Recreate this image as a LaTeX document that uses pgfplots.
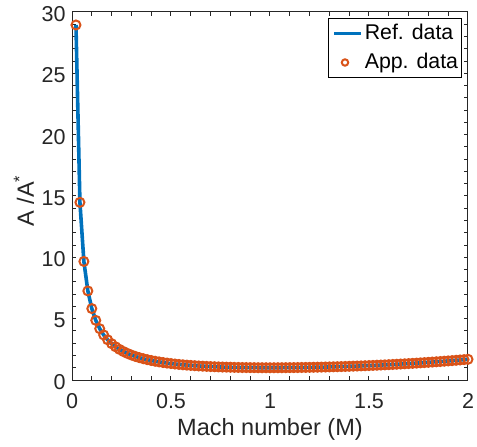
\documentclass[border=0pt]{standalone}
\usepackage{fontspec}
\setmainfont{Liberation Sans}
\usepackage{pgfplots}
\usepackage{pgfplotstable}
\pgfplotsset{compat=1.18}

\definecolor{mblue}{rgb}{0,0.447,0.741}
\definecolor{morange}{rgb}{0.85,0.325,0.098}
\definecolor{axgray}{rgb}{0.15,0.15,0.15}

% legend symbols
\pgfplotsset{
  linelegend/.style={legend image code/.code={
    \draw[mblue, line width=1.8bp, mark=none] (0bp,0bp) -- (13.5bp,0bp);}},
  circlelegend/.style={legend image code/.code={
    \path[draw=none, mark=none] (0bp,0bp) -- (13.5bp,0bp);
    \draw[morange, line width=1bp, mark=none, fill=none]
      (5.5bp,0bp) circle[radius=1.6bp];}},
}

% Mach number vs area ratio
\pgfplotstableread{
M A
0.02 28.942
0.04 14.482
0.06 9.666
0.08 7.262
0.10 5.822
0.12 4.864
0.14 4.182
0.16 3.673
0.18 3.278
0.20 2.964
0.22 2.708
0.24 2.496
0.26 2.317
0.28 2.166
0.30 2.035
0.32 1.922
0.34 1.823
0.36 1.736
0.38 1.659
0.40 1.590
0.42 1.529
0.44 1.474
0.46 1.425
0.48 1.380
0.50 1.340
0.52 1.303
0.54 1.270
0.56 1.240
0.58 1.213
0.60 1.188
0.62 1.166
0.64 1.145
0.66 1.127
0.68 1.110
0.70 1.094
0.72 1.081
0.74 1.068
0.76 1.057
0.78 1.047
0.80 1.038
0.82 1.030
0.84 1.024
0.86 1.018
0.88 1.013
0.90 1.009
0.92 1.006
0.94 1.003
0.96 1.001
0.98 1.000
1.00 1.000
1.02 1.000
1.04 1.001
1.06 1.003
1.08 1.005
1.10 1.008
1.12 1.011
1.14 1.015
1.16 1.020
1.18 1.025
1.20 1.030
1.22 1.037
1.24 1.043
1.26 1.050
1.28 1.058
1.30 1.066
1.32 1.075
1.34 1.084
1.36 1.094
1.38 1.104
1.40 1.115
1.42 1.126
1.44 1.138
1.46 1.150
1.48 1.163
1.50 1.176
1.52 1.190
1.54 1.204
1.56 1.219
1.58 1.234
1.60 1.250
1.62 1.267
1.64 1.284
1.66 1.301
1.68 1.319
1.70 1.338
1.72 1.357
1.74 1.376
1.76 1.397
1.78 1.418
1.80 1.439
1.82 1.461
1.84 1.484
1.86 1.507
1.88 1.531
1.90 1.555
1.92 1.580
1.94 1.606
1.96 1.633
1.98 1.660
2.00 1.688
}\areadata

\begin{document}
\begin{tikzpicture}
% page = 477x447 px at 2 px per bp, axis box at px (72..468, 12..380)
\useasboundingbox (-36bp,-33.5bp) rectangle (202.5bp,190bp);
\begin{axis}[
  at={(0,0)}, anchor=south west,
  scale only axis,
  width=198bp, height=184bp,
  xmin=0, xmax=2, ymin=0, ymax=30,
  xtick={0,0.5,1,1.5,2},
  ytick={0,5,10,15,20,25,30},
  minor x tick num=4,
  minor y tick num=4,
  tick align=inside,
  major tick length=2bp,
  minor tick length=2bp,
  axis line style={axgray, line width=0.5bp},
  every tick/.style={axgray, line width=0.5bp},
  tick label style={font=\fontsize{10.8}{13}\selectfont, text=axgray,
                    inner sep=0pt},
  /pgf/number format/assume math mode=true,
  xticklabel style={anchor=north, yshift=-6.5bp},
  yticklabel style={anchor=east, xshift=-3bp, yshift=-1bp},
  xlabel={Mach number (M)},
  ylabel={A /A\textsuperscript{*}},
  label style={font=\fontsize{11.8}{14}\selectfont, text=axgray},
  xlabel style={at={(axis description cs:0.5,0)}, anchor=center,
                yshift=-24.75bp},
  ylabel style={at={(axis description cs:0,0.487)}, anchor=center,
                yshift=24bp},
  legend style={font=\fontsize{10.7}{13}\selectfont,
                at={(0.985,0.9837)}, anchor=north east,
                draw=black, line width=0.5bp,
                inner xsep=1.75bp, inner ysep=2.5bp,
                row sep=4.5bp, column sep=1bp,
                nodes={inner sep=0pt, text height=7.8bp, text depth=2.2bp}},
  legend cell align=left,
]
\addplot[mblue, line width=1.8bp, mark=none, linelegend]
  table[x=M, y=A] {\areadata};
\addlegendentry{Ref. data}
\addplot[only marks, morange, mark=o, mark size=2.25bp,
         mark options={line width=1bp}, circlelegend]
  table[x=M, y=A] {\areadata};
\addlegendentry{App. data}
\end{axis}
\end{tikzpicture}
\end{document}
